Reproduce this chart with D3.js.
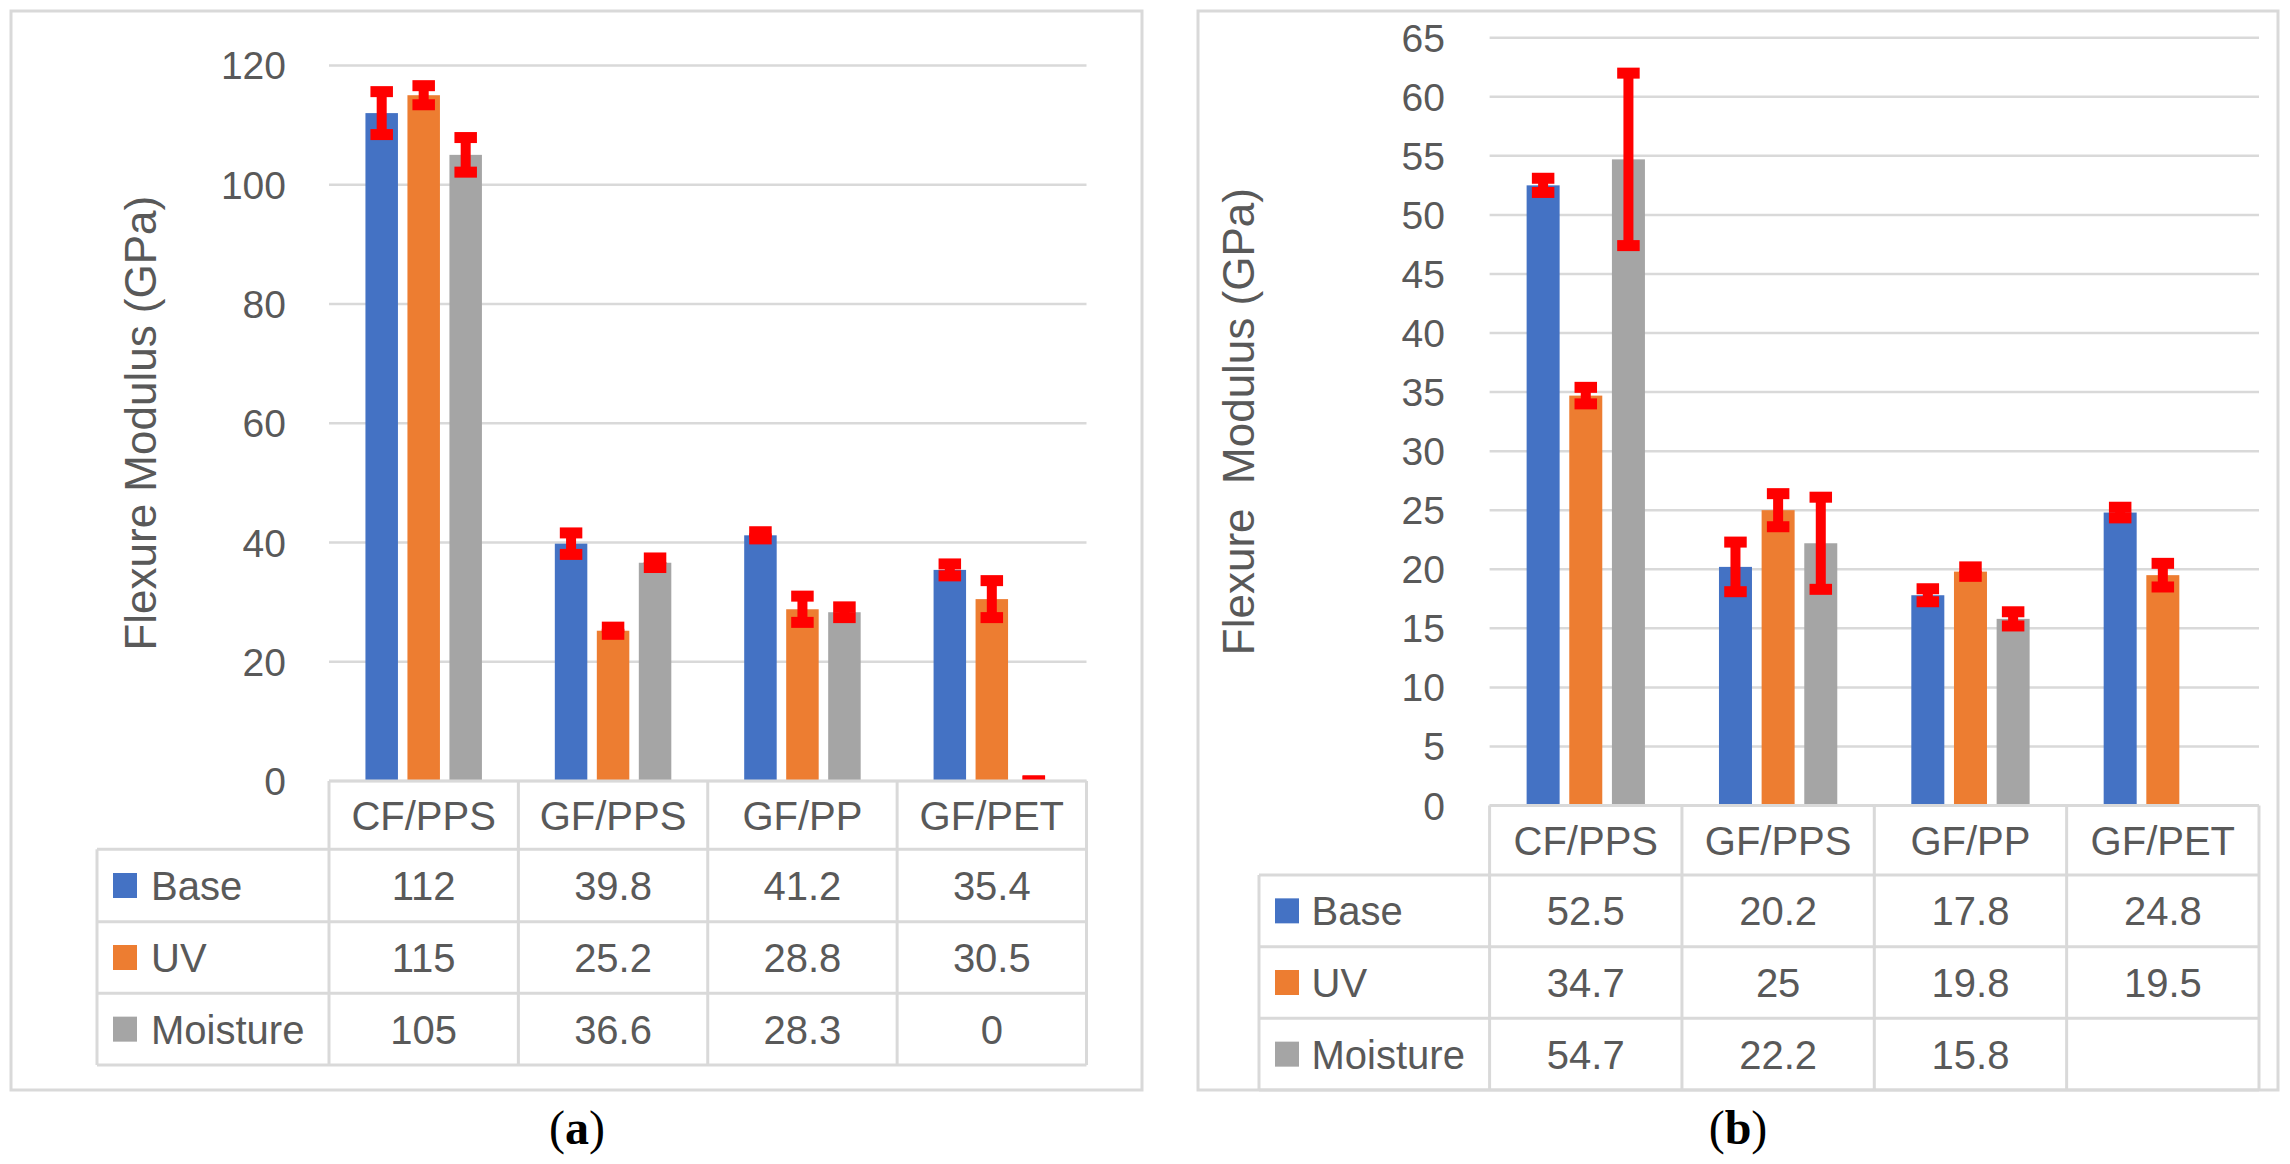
<!DOCTYPE html>
<html>
<head>
<meta charset="utf-8">
<script src="https://cdn.jsdelivr.net/npm/d3@7"></script>
<style>
  body { margin: 0; background: #fff; }
  svg text { font-family: "Liberation Sans", Arial, sans-serif; fill: #595959; }
</style>
</head>
<body>
<script>
// categories and series
var categories = ["CF/PPS", "GF/PPS", "GF/PP", "GF/PET"];
var seriesNames = ["Base", "UV", "Moisture"];
var seriesColors = ["#4472C4", "#ED7D31", "#A5A5A5"];

// panel (a) values + error bars
var baseA = [112, 39.8, 41.2, 35.4];
var uvA = [115, 25.2, 28.8, 30.5];
var moistA = [105, 36.6, 28.3, 0];
var baseErrA = [3.6, 1.8, 0.6, 1.0];
var uvErrA = [1.6, 0.6, 2.2, 3.1];
var moistErrA = [2.9, 0.8, 0.9, 0];
var ticksA = [0, 20, 40, 60, 80, 100, 120];

// panel (b) values + error bars (no moisture value for GF/PET)
var baseB = [52.5, 20.2, 17.8, 24.8];
var uvB = [34.7, 25, 19.8, 19.5];
var moistB = [54.7, 22.2, 15.8, null];
var baseErrB = [0.6, 2.1, 0.55, 0.45];
var uvErrB = [0.7, 1.4, 0.4, 1.0];
var moistErrB = [7.3, 3.9, 0.6, null];
var ticksB = [0, 5, 10, 15, 20, 25, 30, 35, 40, 45, 50, 55, 60, 65];

var W = 2290, H = 1164;
var grid = "#D9D9D9";

var svg = d3.select("body").append("svg")
  .attr("width", W)
  .attr("height", H);

var panels = [
  {
    id: "a", caption: "a", title: "Flexure Modulus (GPa)",
    values: [baseA, uvA, moistA], errors: [baseErrA, uvErrA, moistErrA],
    ticks: ticksA, yMax: 120,
    box: [11, 11, 1142, 1090],
    plotX: [329, 1086.5], plotY: [781, 65.4],
    tickX: 286, titleX: 156,
    tableLeft: 97, rows: [849.3, 921.7, 993.3, 1065],
    swatchX: 113, nameX: 151,
    capX: 577, capY: 1144
  },
  {
    id: "b", caption: "b", title: "Flexure  Modulus (GPa)",
    values: [baseB, uvB, moistB], errors: [baseErrB, uvErrB, moistErrB],
    ticks: ticksB, yMax: 65,
    box: [1198, 11, 2278, 1090],
    plotX: [1489.6, 2259], plotY: [805.5, 37.7],
    tickX: 1445, titleX: 1254,
    tableLeft: 1259, rows: [875, 946.7, 1018.3, 1090],
    swatchX: 1275, nameX: 1311.5,
    capX: 1738, capY: 1144
  }
];

panels.forEach(drawPanel);

function drawPanel(p) {
  var g = svg.append("g").attr("class", "panel-" + p.id);

  // outer frame
  g.append("rect")
    .attr("x", p.box[0]).attr("y", p.box[1])
    .attr("width", p.box[2] - p.box[0]).attr("height", p.box[3] - p.box[1])
    .attr("fill", "none").attr("stroke", grid).attr("stroke-width", 3);

  var x = d3.scaleBand().domain(categories).range(p.plotX);
  var y = d3.scaleLinear().domain([0, p.yMax]).range(p.plotY);
  var k = x.bandwidth() / 189.4;
  var barW = 32.5 * k, pitch = 42 * k;

  // gridlines
  g.selectAll("line.grid").data(p.ticks).enter().append("line")
    .attr("class", "grid")
    .attr("x1", p.plotX[0]).attr("x2", p.plotX[1])
    .attr("y1", d => y(d)).attr("y2", d => y(d))
    .attr("stroke", grid).attr("stroke-width", 2.5);

  // tick labels
  g.selectAll("text.tick").data(p.ticks).enter().append("text")
    .attr("class", "tick")
    .attr("x", p.tickX).attr("y", d => y(d))
    .attr("dy", "0.36em")
    .attr("text-anchor", "end")
    .style("font-size", "39px")
    .text(d => d);

  // axis title
  g.append("text")
    .attr("transform", "translate(" + p.titleX + "," + ((p.plotY[0] + p.plotY[1]) / 2) + ") rotate(-90)")
    .attr("text-anchor", "middle")
    .style("font-size", "44px")
    .style("white-space", "pre")
    .text(p.title);

  // bars
  var barData = [];
  p.values.forEach(function(vals, s) {
    vals.forEach(function(v, c) {
      if (v === null) return;
      barData.push({s: s, cat: categories[c], v: v, e: p.errors[s][c]});
    });
  });

  g.selectAll("rect.bar").data(barData).enter().append("rect")
    .attr("class", "bar")
    .attr("x", d => x(d.cat) + x.bandwidth() / 2 + (d.s - 1) * pitch - barW / 2)
    .attr("width", barW)
    .attr("y", d => y(d.v))
    .attr("height", d => y(0) - y(d.v))
    .attr("fill", d => seriesColors[d.s]);

  // error bars, clipped to the plot area
  var clipId = "clip-" + p.id;
  g.append("clipPath").attr("id", clipId)
    .append("rect")
    .attr("x", p.plotX[0]).attr("y", p.box[1])
    .attr("width", p.plotX[1] - p.plotX[0]).attr("height", y(0) - p.box[1]);

  var eg = g.append("g").attr("clip-path", "url(#" + clipId + ")");
  var capW = 22.5, capH = 11, stemW = 10;
  barData.forEach(function(d) {
    if (d.e === null) return;
    var cx = x(d.cat) + x.bandwidth() / 2 + (d.s - 1) * pitch;
    var yt = y(d.v + d.e), yb = y(d.v - d.e);
    eg.append("rect")
      .attr("x", cx - stemW / 2).attr("width", stemW)
      .attr("y", yt).attr("height", Math.max(0, yb - yt))
      .attr("fill", "#FF0000");
    [yt, yb].forEach(function(yy) {
      eg.append("rect")
        .attr("x", cx - capW / 2).attr("width", capW)
        .attr("y", yy - capH / 2).attr("height", capH)
        .attr("fill", "#FF0000");
    });
  });

  // data table
  var t = g.append("g").attr("class", "table");
  var top = p.plotY[0];
  var rowTops = [top].concat(p.rows.slice(0, 3));
  var colEdges = categories.map(c => x(c)).concat([p.plotX[1]]);

  // horizontal lines
  t.append("line")
    .attr("x1", p.plotX[0]).attr("x2", p.plotX[1])
    .attr("y1", top).attr("y2", top);
  p.rows.forEach(function(r) {
    t.append("line")
      .attr("x1", p.tableLeft).attr("x2", p.plotX[1])
      .attr("y1", r).attr("y2", r);
  });
  // vertical lines
  colEdges.forEach(function(cx) {
    t.append("line")
      .attr("x1", cx).attr("x2", cx)
      .attr("y1", top).attr("y2", p.rows[3]);
  });
  t.append("line")
    .attr("x1", p.tableLeft).attr("x2", p.tableLeft)
    .attr("y1", p.rows[0]).attr("y2", p.rows[3]);
  t.selectAll("line").attr("stroke", grid).attr("stroke-width", 3);

  // header
  t.selectAll("text.cat").data(categories).enter().append("text")
    .attr("class", "cat")
    .attr("x", d => x(d) + x.bandwidth() / 2)
    .attr("y", (top + p.rows[0]) / 2)
    .attr("dy", "0.36em")
    .attr("text-anchor", "middle")
    .style("font-size", "40px")
    .text(d => d);

  // rows
  seriesNames.forEach(function(name, s) {
    var cy = (p.rows[s] + p.rows[s + 1]) / 2;
    t.append("rect")
      .attr("x", p.swatchX).attr("y", cy - 12.5)
      .attr("width", 24).attr("height", 25)
      .attr("fill", seriesColors[s]);
    t.append("text")
      .attr("x", p.nameX).attr("y", cy).attr("dy", "0.36em")
      .style("font-size", "40px")
      .text(name);
    p.values[s].forEach(function(v, c) {
      t.append("text")
        .attr("x", x(categories[c]) + x.bandwidth() / 2)
        .attr("y", cy).attr("dy", "0.36em")
        .attr("text-anchor", "middle")
        .style("font-size", "40px")
        .text(v === null ? "" : v);
    });
  });

  // caption "(a)" / "(b)"
  var cap = g.append("text")
    .attr("x", p.capX).attr("y", p.capY)
    .attr("text-anchor", "middle")
    .style("font-family", "'Liberation Serif', 'Times New Roman', serif")
    .style("font-size", "48px")
    .style("fill", "#000");
  cap.append("tspan").text("(");
  cap.append("tspan").style("font-weight", "bold").text(p.caption);
  cap.append("tspan").text(")");
}
</script>
</body>
</html>
